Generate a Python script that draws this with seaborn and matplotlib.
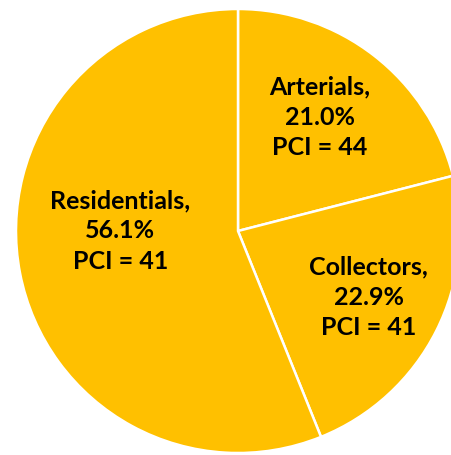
import numpy as np
import matplotlib
matplotlib.use("Agg")
import matplotlib.pyplot as plt
import seaborn as sns

categories = ['Arterials', 'Collectors', 'Residentials']
shares = [21.0, 22.9, 56.1]
pci = [44, 41, 41]

sns.set_theme(style="white")
plt.rcParams['font.family'] = ['Lato', 'DejaVu Sans']

fig = plt.figure(figsize=(4.51, 4.55), dpi=100)
ax = fig.add_axes([0, 0, 1, 1])

colors = sns.color_palette(['#FFC000'] * len(categories))
wedges, _ = ax.pie(shares, colors=colors, startangle=90, counterclock=False,
                   radius=1.0,
                   wedgeprops=dict(edgecolor='white', linewidth=1.8))

# label placement (distance from centre, small angle nudge)
label_r = [0.63, 0.66, 0.53]
label_nudge = [2, 0, -11]
for w, name, s, p, r, nd in zip(wedges, categories, shares, pci, label_r, label_nudge):
    ang = np.deg2rad((w.theta1 + w.theta2) / 2 + nd)
    ax.text(r * np.cos(ang), r * np.sin(ang), f"{name},\n{s:.1f}%\nPCI = {p}",
            ha='center', va='center', fontsize=18, fontweight='bold',
            color='black', linespacing=1.38)

# centre at (238, 231) px, radius 222 px
R = 222.0
ax.set_xlim(-238 / R, (451 - 238) / R)
ax.set_ylim(-(455 - 231) / R, 231 / R)
ax.set_aspect('auto')
ax.axis('off')

plt.savefig('out.png', dpi=100)
